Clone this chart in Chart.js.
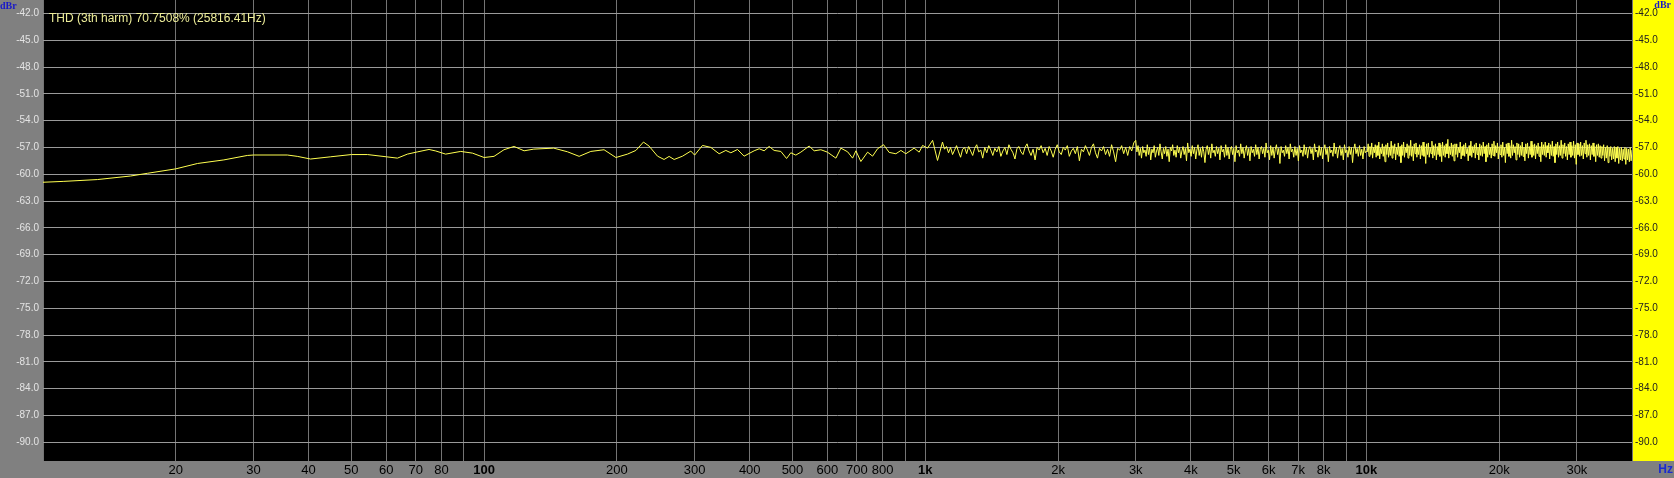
<!DOCTYPE html>
<html>
<head>
<meta charset="utf-8">
<script src="https://cdn.jsdelivr.net/npm/chart.js@4.4.1/dist/chart.umd.min.js"></script>
<style>
  html, body { margin: 0; padding: 0; background: #808080; }
  #wrap { width: 1674px; height: 478px; }
</style>
</head>
<body>
<div id="wrap"><canvas id="c" width="1674" height="478"></canvas></div>
<script>
// ---- DATA ----
const titleText = "THD (3th harm) 70.7508% (25816.41Hz)";
const yUnit = "dBr";
const xUnit = "Hz";

// smooth / low-frequency part (Hz, dBr)
const lowHz = [10, 11.15, 13.28, 15.8, 17.24, 20, 22.4, 25.7, 29.05, 30, 35.8, 37.7, 40.4, 44.9, 50, 54.4, 60, 63.6, 67.0, 70.6,
  75.0, 77.7, 81.8, 88.5, 94.1, 100, 105.3, 110.9, 116.9, 123.2, 129.6, 143.8, 154.5, 164.2, 174.5, 187.0, 198.9, 211.3, 220.8, 229.7,
  236.5, 247.2, 255.8, 262.6, 269.6, 281.7, 294.1, 300, 312.6, 326.5, 341.0, 353.1, 362.5, 375.3, 388.4, 409.3, 420.2, 431.3, 442.6, 454.4,
  470.6, 484.8, 495.7, 508.8, 522.3, 545.4, 560.0, 580.0, 600, 627.2, 643.8, 666.7, 684.3, 696.2, 714.5, 740.0, 759.5, 779.6, 804.4, 828.2,
  857.8, 880.6, 903.6, 943.6, 968.6, 986.1, 1012, 1039, 1066, 1094];
const lowDb = [-60.9, -60.8, -60.6, -60.2, -59.9, -59.4, -58.8, -58.4, -57.9, -57.85, -57.85, -58.0, -58.3, -58.05, -57.8, -57.8, -58.05, -58.2, -57.75, -57.5,
  -57.23, -57.4, -57.75, -57.45, -57.64, -58.13, -58.0, -57.26, -56.89, -57.38, -57.19, -57.08, -57.49, -58.0, -57.45, -57.26, -58.13, -57.75, -57.34, -56.4,
  -56.85, -57.98, -58.35, -58.01, -58.35, -57.98, -57.41, -57.86, -56.78, -57.0, -57.71, -57.34, -57.6, -57.23, -57.98, -57.38, -57.15, -57.38, -56.89, -57.34,
  -57.45, -58.24, -57.6, -57.86, -57.53, -56.85, -57.38, -57.26, -57.53, -58.2, -57.08, -57.49, -58.2, -57.38, -58.58, -57.53, -57.98, -57.15, -56.7, -57.56,
  -57.71, -57.34, -57.71, -57.08, -57.53, -56.78, -57.08, -56.21, -58.46, -56.4];

// dense (FFT-bin) parts: each band is sampled evenly in log-frequency between its edges
const bandAHz = [1094, 3000];
const bandADb = [-57.2,-56.9,-57.6,-57.0,-57.8,-57.3,-56.8,-57.5,-58.1,-57.2,-57.0,-57.7,-56.9,-57.4,-57.9,-57.1,-56.7,-57.5,-57.3,-58.2,
  -57.0,-57.6,-56.8,-57.3,-57.9,-57.1,-57.5,-56.9,-58.0,-57.4,-57.0,-57.8,-56.7,-57.2,-57.6,-58.3,-57.1,-56.9,-57.5,-57.8,
  -57.0,-56.6,-57.4,-57.9,-57.2,-58.4,-57.0,-57.3,-56.8,-57.6,-57.1,-57.9,-56.9,-57.4,-58.1,-57.2,-56.7,-57.5,-57.8,-57.0,
  -57.3,-56.8,-58.0,-57.4,-57.1,-57.7,-56.9,-58.5,-57.2,-57.5,-56.8,-57.3,-57.9,-57.0,-56.6,-57.6,-58.2,-57.1,-57.4,-56.9,
  -57.8,-57.2,-58.0,-56.7,-57.5,-58.6,-57.1,-57.3,-56.8,-57.7,-57.0,-57.9,-56.9,-57.4,-56.5,-56.2];
const bandBHz = [3000, 10000];
const bandBDb = [-57.5,-56.8,-57.9,-57.1,-58.2,-56.9,-57.6,-57.3,-58.0,-56.7,
  -57.8,-57.0,-58.4,-57.2,-57.6,-56.8,-58.1,-57.4,-57.0,-57.9,
  -56.6,-57.5,-58.3,-57.1,-57.7,-56.9,-58.0,-57.2,-58.6,-57.0,
  -57.4,-56.7,-57.9,-57.3,-58.1,-56.8,-57.6,-57.0,-58.2,-57.4,
  -56.9,-57.8,-57.1,-58.5,-56.5,-57.6,-57.2,-58.0,-56.8,-57.7,
  -57.0,-58.3,-57.3,-56.7,-57.9,-57.1,-58.1,-56.9,-57.5,-58.7,
  -57.2,-56.8,-57.8,-57.0,-58.2,-56.6,-57.6,-57.3,-58.0,-56.9,
  -57.7,-57.1,-58.4,-56.8,-57.5,-57.2,-58.1,-56.7,-57.9,-57.0,
  -58.3,-57.2,-56.9,-57.8,-57.1,-58.6,-56.8,-57.6,-57.3,-58.0,
  -56.6,-57.7,-57.0,-58.2,-57.3,-56.8,-57.9,-57.1,-58.5,-56.9,
  -57.6,-57.2,-58.0,-56.7,-57.8,-57.0,-58.3,-57.2,-56.9,-57.7,
  -57.1,-58.1,-56.5,-57.6,-57.3,-58.4,-56.8,-57.9,-57.0,-58.2,
  -57.2,-56.7,-57.8,-57.1,-58.8,-56.9,-57.6,-57.3,-58.0,-56.8,
  -57.7,-57.0,-58.3,-56.6,-57.5,-57.2,-58.1,-56.9,-57.9,-57.1,
  -58.5,-56.8,-57.6,-57.3,-58.0,-56.7,-57.8,-57.0,-58.2,-57.2,
  -56.9,-57.7,-57.1,-58.4,-56.6,-57.5,-57.3,-58.1,-56.8,-57.9,
  -57.0,-58.3,-57.2,-56.7,-57.8,-57.1,-58.6,-56.9,-57.6,-57.3,
  -58.0,-56.5,-57.7,-57.0,-58.2,-57.2,-56.8,-57.9,-57.1,-58.4,
  -56.7,-57.6,-57.3,-58.1,-56.9,-57.8,-57.0,-58.7,-57.2,-56.6,
  -57.7,-57.1,-58.0,-56.8,-57.9,-57.2,-58.3,-56.9,-57.6,-57.4];
const bandCHz = [10000, 40000];
const bandCDb = [-57.5,-56.6,-58.0,-56.9,-57.8,-56.5,-58.2,-57.0,-57.6,-56.7,
  -58.1,-56.8,-57.9,-56.4,-58.3,-57.1,-57.7,-56.6,-58.0,-56.9,
  -58.6,-56.7,-57.8,-56.5,-58.1,-57.0,-57.9,-56.3,-58.2,-56.8,
  -57.7,-56.6,-58.4,-57.0,-57.8,-56.5,-58.0,-56.9,-58.7,-56.7,
  -57.9,-56.4,-58.1,-57.0,-57.6,-56.6,-58.2,-56.8,-57.9,-56.2,
  -58.0,-56.9,-58.5,-56.6,-57.7,-56.5,-58.1,-57.0,-57.8,-56.7,
  -58.3,-56.8,-57.9,-56.4,-58.0,-56.9,-58.8,-56.6,-57.8,-56.5,
  -58.1,-57.0,-57.7,-56.3,-58.2,-56.8,-57.9,-56.6,-58.4,-56.9,
  -57.8,-56.5,-58.0,-56.7,-58.6,-56.4,-57.9,-56.8,-58.1,-56.6,
  -57.7,-56.1,-58.2,-56.9,-57.8,-56.5,-58.0,-56.7,-58.5,-56.6,
  -57.8,-56.6,-58.1,-57.0,-57.6,-56.4,-58.3,-56.9,-57.9,-56.7,
  -58.0,-56.5,-57.7,-57.1,-58.5,-56.8,-57.9,-56.3,-58.1,-56.9,
  -57.6,-56.7,-58.2,-56.5,-57.8,-57.0,-58.4,-56.6,-57.9,-56.8,
  -58.0,-56.4,-57.7,-56.9,-58.6,-56.7,-58.1,-56.5,-57.8,-57.0,
  -58.2,-56.6,-57.9,-56.3,-58.0,-56.8,-57.6,-56.5,-58.3,-56.9,
  -57.8,-56.7,-58.1,-56.4,-57.9,-57.0,-58.7,-56.6,-57.7,-56.5,
  -58.0,-56.8,-58.2,-56.2,-57.9,-56.7,-57.6,-56.9,-58.4,-56.5,
  -57.8,-56.6,-58.1,-56.8,-57.9,-56.4,-58.0,-57.0,-58.5,-56.6,
  -57.7,-56.5,-58.2,-56.9,-57.8,-56.3,-58.1,-56.7,-57.9,-56.6,
  -58.3,-56.8,-57.7,-56.5,-58.0,-56.9,-58.6,-56.4,-57.8,-56.7,
  -57.9,-56.4,-58.1,-56.8,-57.6,-56.5,-58.3,-56.7,-57.9,-56.3,
  -58.0,-56.9,-58.7,-56.6,-57.8,-56.4,-58.1,-56.8,-57.9,-56.2,
  -58.2,-56.7,-57.7,-56.5,-58.0,-56.9,-58.4,-56.6,-57.8,-56.4,
  -58.1,-56.8,-57.9,-56.3,-58.2,-56.7,-58.9,-56.5,-57.8,-56.6,
  -58.0,-56.4,-57.9,-56.8,-58.3,-56.5,-57.7,-56.2,-58.1,-56.7,
  -57.9,-56.6,-58.4,-56.8,-57.8,-56.5,-58.0,-56.9,-58.6,-56.7,
  -57.9,-56.6,-58.1,-56.8,-58.2,-56.9,-57.9,-56.7,-58.5,-57.0,
  -58.2,-56.8,-58.7,-57.0,-58.0,-56.9,-58.4,-57.1,-58.3,-56.9,
  -58.6,-57.0,-58.2,-56.9,-58.8,-57.1,-58.4,-57.0,-58.5,-57.2,
  -58.3,-57.0,-58.9,-57.1,-58.4,-57.2,-58.6,-57.0,-58.5,-57.3];

// axes
const xMinHz = 10, xMaxHz = 40000;
const yMinDb = -92.1, yMaxDb = -40.5;
const xGridHz = [10,20,30,40,50,60,70,80,90,100,200,300,400,500,600,700,800,900,
  1000,2000,3000,4000,5000,6000,7000,8000,9000,10000,20000,30000,40000];
const xTickHz =    [20,30,40,50,60,70,80,100,200,300,400,500,600,700,800,1000,2000,3000,4000,5000,6000,7000,8000,10000,20000,30000];
const xTickLabel = ["20","30","40","50","60","70","80","100","200","300","400","500","600","700","800","1k","2k","3k","4k","5k","6k","7k","8k","10k","20k","30k"];
const xBoldHz = [100, 1000, 10000];
const yTicksDb = [-42,-45,-48,-51,-54,-57,-60,-63,-66,-69,-72,-75,-78,-81,-84,-87,-90];

// ---- build points ----
const points = lowHz.map((f, i) => ({ x: f, y: lowDb[i] }));
function addBand(edges, vals) {
  const n = vals.length;
  const r = edges[1] / edges[0];
  for (let i = 0; i < n; i++) {
    points.push({ x: edges[0] * Math.pow(r, (i + 1) / n), y: vals[i] });
  }
}
addBand(bandAHz, bandADb);
addBand(bandBHz, bandBDb);
addBand(bandCHz, bandCDb);

const labelOf = new Map(xTickHz.map((v, i) => [v, xTickLabel[i]]));
const boldSet = new Set(xBoldHz);
const NARROW = "'Liberation Sans Narrow', 'Liberation Sans', Arial, sans-serif";

const bgPlugin = {
  id: 'bg',
  beforeDraw(chart) {
    const { ctx, chartArea: a, width, height } = chart;
    ctx.save();
    ctx.fillStyle = '#808080';
    ctx.fillRect(0, 0, width, height);
    ctx.fillStyle = '#000000';
    ctx.fillRect(a.left, a.top, a.right - a.left, a.bottom - a.top);
    ctx.fillStyle = '#ffff00';
    ctx.fillRect(a.right, 0, width - a.right, a.bottom);
    ctx.restore();
  },
  afterDraw(chart) {
    const { ctx, chartArea: a, width } = chart;
    ctx.save();
    ctx.textBaseline = 'alphabetic';
    ctx.font = "12px 'Liberation Sans', Arial, sans-serif";
    ctx.fillStyle = '#eeee99';
    ctx.textAlign = 'left';
    ctx.fillText(titleText, a.left + 6, 21.5);
    ctx.font = "bold 10px 'Liberation Serif', 'DejaVu Serif', serif";
    ctx.fillStyle = '#1818c8';
    ctx.textAlign = 'left';
    ctx.fillText(yUnit, 0, 8.5);
    ctx.textAlign = 'right';
    ctx.fillText(yUnit, width - 3, 8);
    ctx.font = "bold 12px 'Liberation Sans', Arial, sans-serif";
    ctx.fillStyle = '#1a2ad0';
    ctx.fillText(xUnit, width - 1, 473);
    ctx.restore();
  }
};

new Chart(document.getElementById('c'), {
  type: 'line',
  data: {
    datasets: [{
      data: points,
      borderColor: '#ffff50',
      borderWidth: 1,
      pointRadius: 0,
      tension: 0,
      fill: false
    }]
  },
  plugins: [bgPlugin],
  options: {
    responsive: false,
    animation: false,
    events: [],
    parsing: false,
    normalized: true,
    layout: { padding: 0 },
    plugins: { legend: { display: false }, title: { display: false }, tooltip: { enabled: false } },
    scales: {
      x: {
        type: 'logarithmic',
        position: 'bottom',
        min: xMinHz,
        max: xMaxHz,
        offset: false,
        border: { display: false },
        grid: { color: '#747474', lineWidth: 1, drawTicks: false },
        afterBuildTicks(s) { s.ticks = xGridHz.map(v => ({ value: v })); },
        afterFit(s) { s.height = 17; s.paddingLeft = 0; s.paddingRight = 0; },
        ticks: {
          autoSkip: false,
          maxRotation: 0,
          minRotation: 0,
          padding: 2,
          color: '#000000',
          font: (c) => ({ family: NARROW, size: 13, weight: (c.tick && boldSet.has(c.tick.value)) ? 'bold' : 'normal' }),
          callback: (v) => labelOf.has(v) ? labelOf.get(v) : ''
        }
      },
      y: {
        type: 'linear',
        position: 'left',
        min: yMinDb,
        max: yMaxDb,
        border: { display: false },
        grid: { color: '#9a9a9a', lineWidth: 1, drawTicks: false },
        afterBuildTicks(s) { s.ticks = yTicksDb.map(v => ({ value: v })); },
        afterFit(s) { s.width = 43; s.paddingTop = 0; s.paddingBottom = 0; },
        ticks: {
          padding: 4,
          color: '#e4e4e4',
          font: { family: NARROW, size: 10 },
          callback: (v) => Number(v).toFixed(1)
        }
      },
      y2: {
        type: 'linear',
        position: 'right',
        min: yMinDb,
        max: yMaxDb,
        border: { display: false },
        grid: { display: false, drawTicks: false },
        afterBuildTicks(s) { s.ticks = yTicksDb.map(v => ({ value: v })); },
        afterFit(s) { s.width = 42; s.paddingTop = 0; s.paddingBottom = 0; },
        ticks: {
          padding: 3,
          color: '#202020',
          font: { family: NARROW, size: 10 },
          callback: (v) => Number(v).toFixed(1)
        }
      }
    }
  }
});
</script>
</body>
</html>
